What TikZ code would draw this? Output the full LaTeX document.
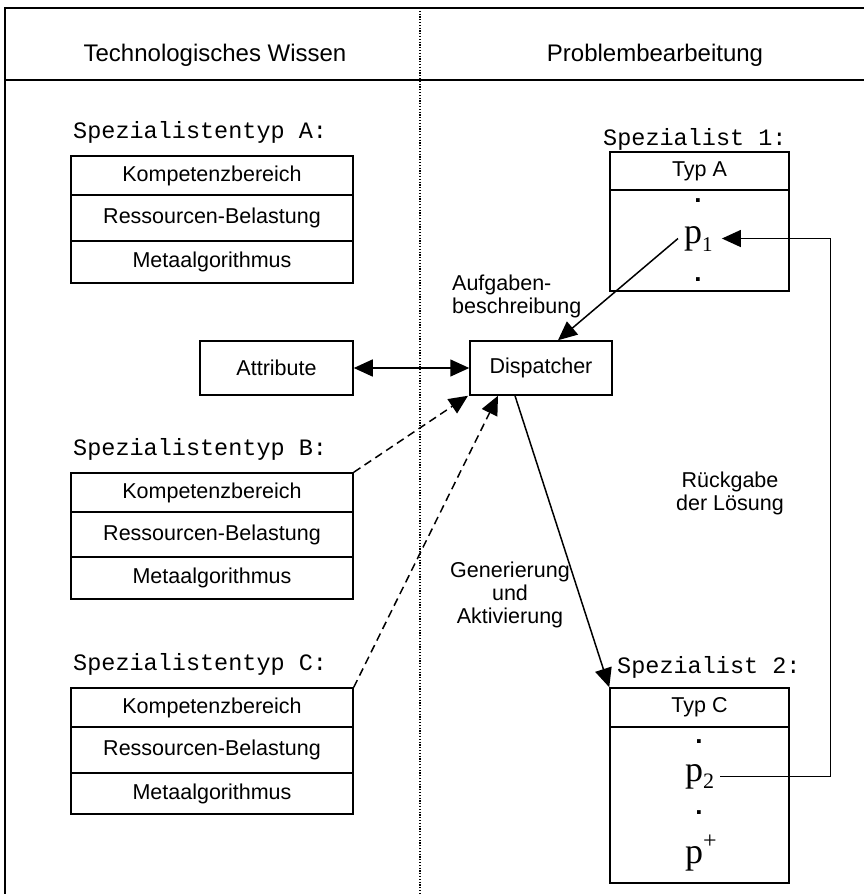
\documentclass[tikz,border=0pt]{standalone}
\usepackage{fontspec}
\setmainfont{Liberation Sans}
\newfontfamily\monofont{Liberation Mono}
\newfontfamily\timesfont{Liberation Serif}
\usetikzlibrary{arrows.meta}
\begin{document}
\begin{tikzpicture}[x=1pt,y=-1pt,
  rowbox/.style={draw, line width=1.5pt, inner sep=0pt, minimum width=282pt,
    font=\fontsize{21.5}{24}\selectfont},
  spbox/.style={draw, line width=1.5pt, inner sep=0pt, minimum width=179pt,
    font=\fontsize{21.5}{24}\selectfont},
  plainbox/.style={draw, line width=1.5pt, inner sep=0pt, minimum height=54pt,
    font=\fontsize{21.5}{24}\selectfont},
  monolabel/.style={anchor=base west, inner sep=0pt, font=\monofont\fontsize{23.5}{24}\selectfont},
  headtext/.style={anchor=base, inner sep=0pt, font=\fontsize{24}{26}\selectfont},
  lbl/.style={inner sep=0pt, font=\fontsize{21.5}{23}\selectfont},
  ptext/.style={anchor=base west, inner sep=0pt, font=\timesfont\fontsize{36}{36}\selectfont},
  dotmark/.style={anchor=base, inner sep=0pt, font=\bfseries\fontsize{26}{26}\selectfont},
  conn/.style={line width=1.5pt},
  arr/.style={-{Triangle[length=19pt,width=17pt]}},
  dbl/.style={{Triangle[length=19pt,width=17pt]}-{Triangle[length=19pt,width=17pt]}},
  dashline/.style={line width=1.5pt, dash pattern=on 8pt off 5pt}
]
\useasboundingbox (0,0) rectangle (864,894);
\fill[white] (0,0) rectangle (864,894);

% frame
\draw[line width=1.6pt] (5,894) -- (5,8) -- (864,8);
\draw[line width=2.4pt] (5,80) -- (864,80);
\draw[line width=1.1pt, dash pattern=on 1.2pt off 1.6pt] (420,8) -- (420,894);

% headers
\node[headtext] (h1) at (215,61) {Technologisches Wissen};
\node[headtext] (h2) at (655,61) {Problembearbeitung};

% Spezialistentyp A
\node[monolabel] (la) at (73,138) {Spezialistentyp A:};
\node[rowbox, minimum height=39pt] (ak) at (212,175.5) {Kompetenzbereich};
\node[rowbox, minimum height=46pt] (ar) at (212,218) {Ressourcen-Belastung};
\node[rowbox, minimum height=42pt] (am) at (212,262) {Metaalgorithmus};

% Spezialistentyp B
\node[monolabel] (lb) at (73,455) {Spezialistentyp B:};
\node[rowbox, minimum height=39pt] (bk) at (212,492.5) {Kompetenzbereich};
\node[rowbox, minimum height=45pt] (br) at (212,534.5) {Ressourcen-Belastung};
\node[rowbox, minimum height=42pt] (bm) at (212,578) {Metaalgorithmus};

% Spezialistentyp C
\node[monolabel] (lc) at (73,670) {Spezialistentyp C:};
\node[rowbox, minimum height=39pt] (ck) at (212,707.5) {Kompetenzbereich};
\node[rowbox, minimum height=46pt] (cr) at (212,750) {Ressourcen-Belastung};
\node[rowbox, minimum height=41pt] (cm) at (212,793.5) {Metaalgorithmus};

% Attribute and Dispatcher
\node[plainbox, minimum width=153pt] (attr) at (276.5,368) {Attribute};
\node[plainbox, minimum width=142pt] (disp) at (541,368) {Dispatcher};

% Spezialist 1
\node[monolabel] (l1) at (603,145) {Spezialist 1:};
\node[spbox, minimum height=38pt] (s1t) at (699.5,171) {Typ A};
\node[spbox, minimum height=101pt] (s1b) at (699.5,240.5) {};
\node[dotmark] (d11) at (698,202) {.};
\node[dotmark] (d12) at (698,281) {.};
\node[ptext] (p1) at (684,243) {p\raisebox{-8pt}{\fontsize{21}{21}\selectfont 1}};

% Spezialist 2
\node[monolabel] (l2) at (617,673) {Spezialist 2:};
\node[spbox, minimum height=39pt] (s2t) at (699.5,707.5) {Typ C};
\node[spbox, minimum height=156pt] (s2b) at (699.5,805) {};
\node[dotmark] (d21) at (699,743) {.};
\node[dotmark] (d22) at (699,814) {.};
\node[ptext] (p2) at (685,781) {p\raisebox{-7pt}{\fontsize{22}{22}\selectfont 2}};
\node[ptext] (pp) at (685,863) {p\raisebox{15pt}{\fontsize{24}{24}\selectfont +}};

% labels
\node[lbl, align=left, anchor=north west] (lab1) at (452,275) {Aufgaben-\\beschreibung};
\node[lbl, align=center] (lab2) at (730,493) {Rückgabe\\der Lösung};
\node[lbl, align=center] (lab3) at (510,595) {Generierung\\und\\Aktivierung};

% connectors
\draw[conn, dbl] (attr.east) -- (disp.west);
\draw[conn, arr] ([xshift=-6pt]p1.west) -- ([xshift=17pt]disp.north);
\draw[conn, arr] ([xshift=-26pt]disp.south) -- (s2t.north west);
\draw[conn, arr] ([xshift=6pt]p2.east) -- ++(110,0) |- ([xshift=9pt]p1.east);
\draw[dashline, arr] (bk.north east) -- ([xshift=-73pt]disp.south);
\draw[dashline, arr] (ck.north east) -- ([xshift=-43pt]disp.south);
\end{tikzpicture}
\end{document}
